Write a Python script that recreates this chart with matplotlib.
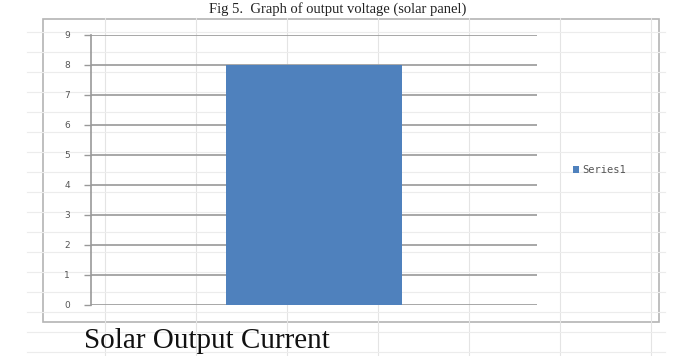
import matplotlib.pyplot as plt
from matplotlib.patches import Rectangle

# data
categories = ['1']
values = [8]
series_name = 'Series1'
y_ticks = [0, 1, 2, 3, 4, 5, 6, 7, 8, 9]

caption = 'Fig 5.  Graph of output voltage (solar panel)'
footer = 'Solar Output Current'

W, H = 675, 356
fig = plt.figure(figsize=(W / 100, H / 100), dpi=100)
fig.patch.set_facecolor('white')

# faint spreadsheet grid behind the chart
for x in range(105, W, 91):
    fig.add_artist(plt.Line2D([x / W, x / W], [0, 1 - 18 / H], color='#e4e4e4', lw=0.8))
for y in range(32, H, 20):
    fig.add_artist(plt.Line2D([0.04, 0.985], [1 - y / H, 1 - y / H], color='#ececec', lw=0.8))

# chart box
fig.add_artist(Rectangle((43 / W, 1 - 322 / H), (659 - 43) / W, (322 - 19) / H,
                         transform=fig.transFigure, facecolor='white',
                         edgecolor='#b4b4b4', lw=1.2, zorder=1))

ax = fig.add_axes([91 / W, 1 - 305 / H, (537 - 91) / W, 270 / H], zorder=2)
ax.set_facecolor('none')
ax.bar(categories, values, width=0.395, color='#4f81bd', label=series_name, zorder=3)
ax.set_xlim(-0.5, 0.5)
ax.set_ylim(0, 9)
ax.set_yticks(y_ticks)
ax.set_yticklabels([str(t) for t in y_ticks], fontsize=6.5, color='#555555')
ax.tick_params(axis='y', length=5, width=1, color='#999999', pad=10)
ax.set_xticks([])
ax.grid(axis='y', color='#a0a0a0', lw=1.3, zorder=0)
ax.set_axisbelow(True)
for s in ['top', 'right', 'bottom']:
    ax.spines[s].set_visible(False)
ax.spines['left'].set_color('#999999')
ax.spines['left'].set_linewidth(1.2)

ax.legend(loc='center left', bbox_to_anchor=(1.06, 0.5), frameon=False,
          prop={'family': 'DejaVu Sans Mono', 'size': 7.5},
          handlelength=0.6, handleheight=0.6, handletextpad=0.3,
          labelcolor='#555555')

fig.text(0.5, 1 - 13 / H, caption, ha='center', va='baseline',
         family='Liberation Serif', fontsize=10.5, color='#222222')
fig.text(207 / W, 1 - 348 / H, footer, ha='center', va='baseline',
         family='Liberation Serif', fontsize=21, color='#111111')

fig.savefig('out.png', dpi=100)
